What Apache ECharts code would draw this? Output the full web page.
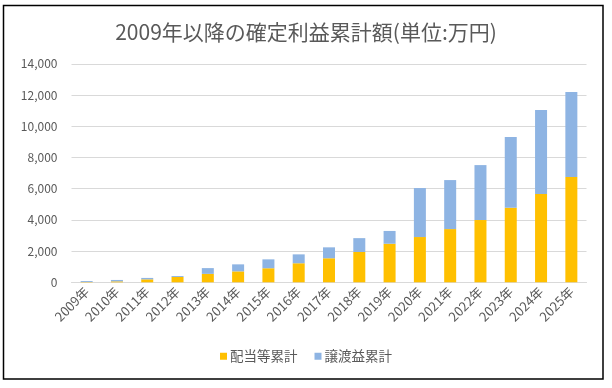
<!DOCTYPE html>
<html>
<head>
<meta charset="utf-8">
<script src="https://cdn.jsdelivr.net/npm/echarts@6/dist/echarts.min.js"></script>
<style>
html,body{margin:0;padding:0;background:#fff;}
#c{width:612px;height:388px;}
</style>
</head>
<body>
<div id="c"></div>
<script>
const categories = ['2009年','2010年','2011年','2012年','2013年','2014年','2015年','2016年','2017年','2018年','2019年','2020年','2021年','2022年','2023年','2024年','2025年'];
const dividendCum = [20, 60, 190, 340, 540, 700, 900, 1220, 1540, 1940, 2470, 2900, 3410, 3990, 4780, 5660, 6750];
const transferCum = [60, 90, 90, 60, 370, 450, 570, 570, 700, 890, 820, 3140, 3140, 3520, 4530, 5380, 5440];
const seriesNames = ['配当等累計', '譲渡益累計'];
const titleText = '2009年以降の確定利益累計額(単位:万円)';

const font = "'Noto Sans CJK JP', 'Noto Sans', sans-serif";
const chart = echarts.init(document.getElementById('c'));
chart.setOption({
  animation: false,
  backgroundColor: '#fff',
  textStyle: { fontFamily: font },
  title: {
    text: titleText,
    left: 'center',
    top: 17,
    textStyle: { fontFamily: font, fontSize: 21, fontWeight: 'normal', color: '#595959' }
  },
  graphic: [{
    type: 'rect',
    shape: { x: 3.5, y: 5.5, width: 599.5, height: 373.5 },
    style: { fill: 'none', stroke: '#000', lineWidth: 1.5 },
    silent: true
  }],
  legend: {
    data: seriesNames,
    bottom: 20,
    left: 'center',
    icon: 'rect',
    itemWidth: 7,
    itemHeight: 7,
    itemGap: 17,
    textStyle: { fontFamily: font, fontSize: 13.5, color: '#595959', padding: [0, 0, 0, -2] }
  },
  grid: { left: 71.5, right: 25.5, top: 63.8, bottom: 105.7, containLabel: false },
  xAxis: {
    type: 'category',
    data: categories,
    axisLine: { lineStyle: { color: '#D9D9D9', width: 1 } },
    axisTick: { show: false },
    axisLabel: { rotate: 45, fontFamily: font, fontSize: 13, color: '#595959', margin: 7, interval: 0 }
  },
  yAxis: {
    type: 'value',
    min: 0,
    max: 14000,
    interval: 2000,
    axisLine: { show: false },
    axisTick: { show: false },
    splitLine: { lineStyle: { color: '#D9D9D9', width: 1 } },
    axisLabel: {
      fontFamily: font, fontSize: 12, color: '#595959', margin: 14,
      formatter: v => v.toLocaleString('en-US')
    }
  },
  series: [
    { name: seriesNames[0], type: 'bar', stack: 's', data: dividendCum, barWidth: 12, itemStyle: { color: '#FFC000' } },
    { name: seriesNames[1], type: 'bar', stack: 's', data: transferCum, barWidth: 12, itemStyle: { color: '#8EB4E3' } }
  ]
});
</script>
</body>
</html>
